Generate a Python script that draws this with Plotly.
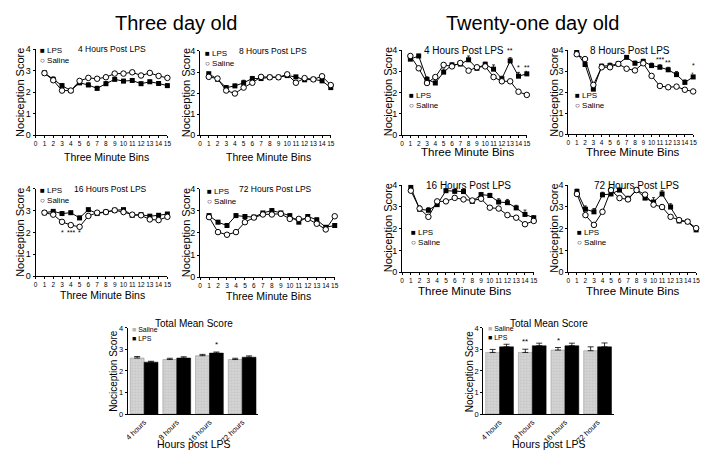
import plotly.graph_objects as go

W, H = 714, 465
FONT = "Liberation Sans, Arial, sans-serif"

bins = list(range(1, 16))
x_ticks = list(range(0, 16))
y_ticks = [0, 1, 2, 3, 4]

# ---------------- Three day old ----------------
d3_4h_lps    = [2.89, 2.59, 2.30, 2.07, 2.43, 2.33, 2.17, 2.39, 2.59, 2.51, 2.54, 2.39, 2.48, 2.40, 2.30]
d3_4h_sal    = [2.88, 2.55, 2.07, 2.07, 2.52, 2.66, 2.62, 2.69, 2.86, 2.86, 2.92, 2.77, 2.89, 2.75, 2.66]
d3_4h_err    = [0.05, 0.12, 0.10, 0.10, 0.08, 0.10, 0.10, 0.10, 0.08, 0.08, 0.08, 0.08, 0.08, 0.08, 0.08]

d3_8h_lps    = [2.92, 2.66, 2.26, 2.34, 2.49, 2.69, 2.69, 2.75, 2.75, 2.83, 2.77, 2.63, 2.65, 2.58, 2.26]
d3_8h_sal    = [2.77, 2.69, 2.12, 1.98, 2.26, 2.49, 2.77, 2.75, 2.75, 2.89, 2.49, 2.71, 2.65, 2.80, 2.38]
d3_8h_err    = [0.06, 0.10, 0.10, 0.08, 0.12, 0.10, 0.06, 0.06, 0.06, 0.06, 0.06, 0.06, 0.06, 0.06, 0.06]

d3_16h_lps   = [2.91, 2.97, 2.87, 2.91, 2.67, 3.05, 2.87, 2.94, 3.02, 3.05, 2.79, 2.82, 2.75, 2.79, 2.85]
d3_16h_sal   = [2.91, 2.82, 2.49, 2.34, 2.26, 2.76, 2.91, 2.94, 3.02, 2.94, 2.82, 2.79, 2.60, 2.57, 2.72]
d3_16h_err   = [0.05, 0.08, 0.06, 0.06, 0.08, 0.05, 0.05, 0.05, 0.05, 0.05, 0.06, 0.06, 0.06, 0.06, 0.06]

d3_72h_lps   = [2.79, 2.49, 2.34, 2.79, 2.75, 2.72, 2.91, 3.02, 2.91, 2.79, 2.49, 2.75, 2.60, 2.26, 2.34]
d3_72h_sal   = [2.72, 2.04, 1.92, 2.04, 2.49, 2.70, 2.84, 2.84, 2.87, 2.64, 2.64, 2.64, 2.42, 2.16, 2.76]
d3_72h_err   = [0.06, 0.08, 0.08, 0.08, 0.08, 0.08, 0.06, 0.06, 0.06, 0.06, 0.06, 0.06, 0.08, 0.08, 0.06]

# ---------------- Twenty-one day old ----------------
d21_4h_lps   = [3.57, 3.72, 2.62, 2.45, 2.96, 3.30, 3.34, 3.54, 3.14, 3.33, 3.10, 2.65, 3.49, 2.77, 2.88]
d21_4h_sal   = [3.72, 3.14, 2.45, 2.73, 3.30, 3.23, 3.39, 3.03, 3.19, 3.23, 2.73, 2.53, 2.53, 2.04, 1.89]
d21_4h_err   = [0.08, 0.08, 0.12, 0.15, 0.15, 0.10, 0.10, 0.18, 0.10, 0.10, 0.20, 0.12, 0.15, 0.18, 0.12]

d21_8h_lps   = [3.88, 3.31, 2.14, 3.23, 3.26, 3.34, 3.65, 3.37, 3.46, 3.26, 3.18, 3.06, 2.83, 2.46, 2.72]
d21_8h_sal   = [3.80, 3.57, 2.34, 3.18, 3.18, 3.34, 3.11, 3.03, 3.37, 2.77, 2.29, 2.23, 2.26, 2.11, 2.03]
d21_8h_err   = [0.06, 0.10, 0.12, 0.10, 0.12, 0.10, 0.08, 0.10, 0.10, 0.12, 0.12, 0.12, 0.15, 0.12, 0.18]

d21_16h_lps  = [3.89, 2.89, 2.84, 3.10, 3.74, 3.71, 3.70, 3.25, 3.56, 3.52, 3.22, 3.19, 2.95, 2.65, 2.50]
d21_16h_sal  = [3.74, 2.92, 2.54, 3.25, 3.25, 3.41, 3.34, 3.29, 3.37, 2.96, 2.92, 2.62, 2.50, 2.20, 2.35]
d21_16h_err  = [0.05, 0.15, 0.12, 0.12, 0.08, 0.08, 0.10, 0.12, 0.10, 0.10, 0.15, 0.15, 0.12, 0.20, 0.10]

d21_72h_lps  = [3.71, 2.89, 2.77, 3.55, 3.59, 3.77, 3.37, 3.77, 3.40, 3.22, 3.59, 2.99, 2.35, 2.32, 1.94]
d21_72h_sal  = [3.59, 2.62, 2.17, 2.77, 3.77, 3.40, 3.34, 3.77, 3.56, 3.10, 2.99, 2.54, 2.39, 2.32, 2.02]
d21_72h_err  = [0.10, 0.15, 0.15, 0.12, 0.10, 0.08, 0.12, 0.08, 0.10, 0.20, 0.15, 0.15, 0.10, 0.10, 0.08]

# ---------------- Total mean score ----------------
bar_cats      = ["4 hours", "8 hours", "16 hours", "72 hours"]
d3_tot_sal    = [2.60, 2.53, 2.71, 2.53]
d3_tot_lps    = [2.41, 2.60, 2.83, 2.64]
d3_tot_sal_e  = [0.07, 0.06, 0.06, 0.06]
d3_tot_lps_e  = [0.04, 0.06, 0.05, 0.06]
d21_tot_sal   = [2.86, 2.86, 2.97, 2.94]
d21_tot_lps   = [3.12, 3.17, 3.17, 3.12]
d21_tot_sal_e = [0.14, 0.15, 0.12, 0.18]
d21_tot_lps_e = [0.12, 0.12, 0.12, 0.18]


def dx(a, b):
    return [a / W, b / W]


def dy(top, bottom):
    return [1 - bottom / H, 1 - top / H]


fig = go.Figure()
annotations = []

axis_common = dict(showline=True, linecolor="black", linewidth=1, ticks="outside",
                   ticklen=3, tickwidth=1, tickcolor="black", showgrid=False,
                   zeroline=False, tickfont=dict(family=FONT, size=8, color="black"))

# (axis index, x domain px, y domain px, lps, saline, err, title, title x, legend x, legend y top, tick font)
panels = [
    (1, (33, 166), (45, 133), d3_4h_lps, d3_4h_sal, d3_4h_err, "4 Hours Post LPS", 8.7, 0.3, 3.9, 6.5),
    (2, (199, 331), (47, 133), d3_8h_lps, d3_8h_sal, d3_8h_err, "8 Hours Post LPS", 8.4, 0.35, 3.86, 6.5),
    (3, (403, 529), (46, 133), d21_4h_lps, d21_4h_sal, d21_4h_err, "4 Hours Post LPS", 7.5, 0.6, 1.85, 6.5),
    (4, (571, 697), (46, 132), d21_8h_lps, d21_8h_sal, d21_8h_err, "8 Hours Post LPS", 7.4, 0.5, 1.8, 6.5),
    (5, (33, 166), (188, 277), d3_16h_lps, d3_16h_sal, d3_16h_err, "16 Hours Post LPS", 8.5, 0.3, 3.9, 6.5),
    (6, (199, 335), (188, 278), d3_72h_lps, d3_72h_sal, d3_72h_err, "72 Hours Post LPS", 8.4, 0.6, 3.9, 6.5),
    (7, (403, 536), (184, 273), d21_16h_lps, d21_16h_sal, d21_16h_err, "16 Hours Post LPS", 7.6, 0.8, 1.83, 6.5),
    (8, (571, 700), (184, 273), d21_72h_lps, d21_72h_sal, d21_72h_err, "72 Hours Post LPS", 8.0, 0.8, 1.8, 6.5),
]

layout_axes = {}
for idx, xd, yd, lps, sal, err, title, tx, lx, ly, tf in panels:
    xa = "x" if idx == 1 else f"x{idx}"
    ya = "y" if idx == 1 else f"y{idx}"
    xkey = "xaxis" if idx == 1 else f"xaxis{idx}"
    ykey = "yaxis" if idx == 1 else f"yaxis{idx}"
    layout_axes[xkey] = dict(axis_common, domain=dx(*xd), range=[0, 15], tickvals=x_ticks,
                             anchor=ya, tickangle=0, ticklen=2,
                             tickfont=dict(family=FONT, size=tf, color="black"))
    layout_axes[ykey] = dict(axis_common, domain=dy(*yd), range=[0, 4], tickvals=y_ticks,
                             anchor=xa, ticklen=2,
                             tickfont=dict(family=FONT, size=9, color="black"))
    fig.add_trace(go.Scatter(
        x=bins, y=lps, xaxis=xa, yaxis=ya, mode="lines+markers", cliponaxis=False,
        line=dict(color="black", width=1),
        marker=dict(symbol="square", size=5, color="black"),
        error_y=dict(type="data", array=err, arrayminus=[0] * len(err), symmetric=False,
                     color="black", thickness=0.8, width=1.5),
        showlegend=False))
    fig.add_trace(go.Scatter(
        x=bins, y=sal, xaxis=xa, yaxis=ya, mode="lines+markers", cliponaxis=False,
        line=dict(color="black", width=1),
        marker=dict(symbol="circle", size=5.5, color="white", line=dict(color="black", width=1)),
        showlegend=False))
    big = idx in (3, 4, 7, 8)
    annotations.append(dict(x=tx, y=4.0, xref=xa, yref=ya, text=title, showarrow=False,
                            font=dict(family=FONT, size=10 if big else 8.5, color="black"),
                            xanchor="center", yanchor="middle"))
    annotations.append(dict(x=lx, y=ly - 0.22, xref=xa, yref=ya, text="■ LPS<br>○ Saline",
                            showarrow=False, align="left",
                            font=dict(family=FONT, size=8, color="black"),
                            xanchor="left", yanchor="middle"))

# y-axis titles and x-axis titles for line panels (paper px)
ytitles = [(17, 89), (185, 90), (389, 89), (557, 89), (17, 232), (185, 233), (389, 228), (557, 228)]
for px, py in ytitles:
    annotations.append(dict(x=px / W, y=1 - py / H, xref="paper", yref="paper",
                            text="Nociception Score", textangle=-90, showarrow=False,
                            font=dict(family=FONT, size=11, color="black"),
                            xanchor="center", yanchor="middle"))
xtitles = [(105, 155, 10.5), (268, 155, 10.5), (470, 150, 11.5), (636, 150, 11.5),
           (100, 296, 10.5), (268, 297, 10.5), (467, 292, 11.5), (636, 292, 11.5)]
for px, py, fs in xtitles:
    annotations.append(dict(x=px / W, y=1 - py / H, xref="paper", yref="paper",
                            text="Three Minute Bins", showarrow=False,
                            font=dict(family=FONT, size=fs, color="black"),
                            xanchor="center", yanchor="middle"))

# significance stars on line panels
stars = [
    ("x3", "y3", 13, 3.98, "**"), ("x3", "y3", 14, 3.2, "*"), ("x3", "y3", 15, 3.2, "**"),
    ("x4", "y4", 11, 3.55, "***"), ("x4", "y4", 12, 3.43, "**"), ("x4", "y4", 15, 3.25, "*"),
    ("x5", "y5", 3, 2.0, "*"), ("x5", "y5", 4, 2.0, "***"), ("x5", "y5", 5, 2.0, "*"),
]
for xa, ya, xv, yv, s in stars:
    annotations.append(dict(x=xv, y=yv, xref=xa, yref=ya, text=s, showarrow=False,
                            font=dict(family=FONT, size=7, color="black"),
                            xanchor="center", yanchor="middle"))

# ---------------- bar charts ----------------
bar_panels = [
    (9, (126, 258), (330, 418), d3_tot_sal, d3_tot_lps, d3_tot_sal_e, d3_tot_lps_e, 193, 112, 3.86),
    (10, (485, 617), (330, 418), d21_tot_sal, d21_tot_lps, d21_tot_sal_e, d21_tot_lps_e, 551, 472, 3.9),
]
for idx, xd, yd, sal, lps, se, le, cx, ytx, legy in bar_panels:
    xa, ya = f"x{idx}", f"y{idx}"
    layout_axes[f"xaxis{idx}"] = dict(axis_common, domain=dx(*xd), range=[-0.5, 3.5],
                                      type="category", anchor=ya, ticks="", tickangle=-45,
                                      tickfont=dict(family=FONT, size=7.5, color="black"))
    layout_axes[f"yaxis{idx}"] = dict(axis_common, domain=dy(*yd), range=[0, 4],
                                      tickvals=y_ticks, anchor=xa, ticklen=2,
                                      tickfont=dict(family=FONT, size=7.5, color="black"))
    fig.add_trace(go.Bar(
        x=bar_cats, y=sal, xaxis=xa, yaxis=ya, offsetgroup="s",
        marker=dict(color="#d4d4d4", line=dict(color="#888888", width=0.5),
                    pattern=dict(shape="+", fgcolor="#ababab", size=3, solidity=0.25)),
        error_y=dict(type="data", array=se, arrayminus=[0] * 4, symmetric=False,
                     color="black", thickness=0.8, width=3),
        showlegend=False))
    fig.add_trace(go.Bar(
        x=bar_cats, y=lps, xaxis=xa, yaxis=ya, offsetgroup="l",
        marker=dict(color="black", line=dict(color="black", width=0.5)),
        error_y=dict(type="data", array=le, arrayminus=[0] * 4, symmetric=False,
                     color="black", thickness=0.8, width=3),
        showlegend=False))
    annotations.append(dict(x=cx / W, y=1 - 325 / H, xref="paper", yref="paper",
                            text="Total Mean Score", showarrow=False,
                            font=dict(family=FONT, size=10, color="black"),
                            xanchor="center", yanchor="middle"))
    annotations.append(dict(x=cx / W, y=1 - 449 / H, xref="paper", yref="paper",
                            text="Hours post LPS", showarrow=False,
                            font=dict(family=FONT, size=10.5, color="black"),
                            xanchor="center", yanchor="middle"))
    annotations.append(dict(x=ytx / W, y=1 - 374 / H, xref="paper", yref="paper",
                            text="Nociception Score", textangle=-90, showarrow=False,
                            font=dict(family=FONT, size=10, color="black"),
                            xanchor="center", yanchor="middle"))
    annotations.append(dict(x=-0.42, y=legy - 0.15, xref=xa, yref=ya,
                            text='<span style="color:#b5b5b5">■</span> Saline<br>■ LPS',
                            showarrow=False, align="left",
                            font=dict(family=FONT, size=7, color="black"),
                            xanchor="left", yanchor="middle"))

bar_stars = [("x9", "y9", 2.21, 2.92, "*"), ("x10", "y10", 0.79, 3.05, "**"),
             ("x10", "y10", 1.79, 3.12, "*")]
for xa, ya, xv, yv, s in bar_stars:
    annotations.append(dict(x=xv, y=yv, xref=xa, yref=ya, text=s, showarrow=False,
                            font=dict(family=FONT, size=8, color="black"),
                            xanchor="center", yanchor="bottom"))

# main titles
annotations.append(dict(x=175 / W, y=1 - 18 / H, xref="paper", yref="paper", text="Three day old",
                        showarrow=False, font=dict(family=FONT, size=20, color="black"),
                        xanchor="center", yanchor="middle"))
annotations.append(dict(x=535 / W, y=1 - 18 / H, xref="paper", yref="paper", text="Twenty-one day old",
                        showarrow=False, font=dict(family=FONT, size=20, color="black"),
                        xanchor="center", yanchor="middle"))

fig.update_layout(
    width=W, height=H, margin=dict(l=0, r=0, t=0, b=0),
    paper_bgcolor="white", plot_bgcolor="white",
    barmode="group", bargap=0.15, bargroupgap=0,
    annotations=annotations, showlegend=False,
    **layout_axes,
)

fig.write_html("out.html", config={"displayModeBar": False},
               post_script="document.body.style.margin='0';document.body.style.overflow='hidden';")
